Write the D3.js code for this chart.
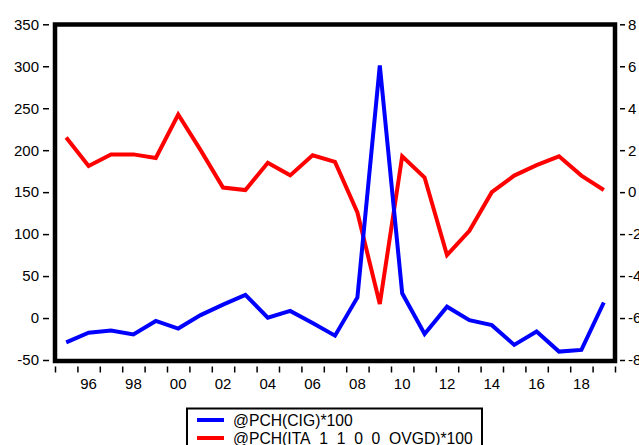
<!DOCTYPE html>
<html>
<head>
<meta charset="utf-8">
<script src="https://cdn.jsdelivr.net/npm/d3@7"></script>
<style>
  body { margin: 0; background: #fff; }
  svg { display: block; font-family: Arial, "Liberation Sans", sans-serif; }
</style>
</head>
<body>
<div id="viz"></div>
<script>
// Annual data, 1995-2019
const years = d3.range(1995, 2020);
const cigValues = [
  -29, -17.5, -15, -19.5, -3.5, -12.5, 3.5, 16, 27.5, 0.5, 8.5, -6, -21,
  24.5, 301, 29.5, -19, 13.5, -2.5, -8.5, -32, -16, -40, -38, 18.5
];
const itaValues = [
  2.6, 1.25, 1.8, 1.8, 1.63, 3.7, 2.0, 0.22, 0.1, 1.4, 0.8, 1.76, 1.44,
  -0.97, -5.33, 1.71, 0.7, -3.0, -1.84, 0.0, 0.79, 1.29, 1.71, 0.79, 0.1
];
const leftTicks = [-50, 0, 50, 100, 150, 200, 250, 300, 350];
const rightTicks = [-8, -6, -4, -2, 0, 2, 4, 6, 8];
const yearLabels = d3.range(1996, 2019, 2);
const legendLabels = ['@PCH(CIG)*100', '@PCH(ITA_1_1_0_0_OVGD)*100'];

const WIDTH = 639;
const HEIGHT = 445;
const FRAME = { left: 55, right: 615, top: 24.5, bottom: 361 };

const svg = d3.select('#viz')
  .append('svg')
  .attr('width', WIDTH)
  .attr('height', HEIGHT);

const x = d3.scaleLinear()
  .domain([1995, 2020])
  .range([FRAME.left, FRAME.right]);
const yLeft = d3.scaleLinear()
  .domain([-50, 350])
  .range([360, 24.3]);
const yRight = d3.scaleLinear()
  .domain([-8, 8])
  .range([360, 24.3]);

const fmt = d => String(d);

// left axis
const gLeft = svg.append('g')
  .attr('transform', 'translate(49,0)')
  .call(d3.axisLeft(yLeft).tickValues(leftTicks).tickSize(6).tickPadding(4).tickFormat(fmt));

// right axis (labels run off the right edge, as in the original)
const gRight = svg.append('g')
  .attr('transform', 'translate(620,0)')
  .call(d3.axisRight(yRight).tickValues(rightTicks).tickSize(5).tickPadding(3).tickFormat(fmt));

// bottom axis: ticks at year boundaries, labels at mid-year
const gBottom = svg.append('g')
  .attr('transform', 'translate(0,366.5)')
  .call(d3.axisBottom(x).tickValues(d3.range(1995, 2021)).tickSize(6).tickFormat(''));

[gLeft, gRight, gBottom].forEach(g => {
  g.select('.domain').remove();
  g.selectAll('.tick line').attr('stroke', '#000').attr('stroke-width', 1.5);
  g.selectAll('.tick text')
    .attr('fill', '#000')
    .style('font-size', '15px')
    .style('font-family', 'Arial, "Liberation Sans", sans-serif');
});

svg.append('g')
  .selectAll('text')
  .data(yearLabels)
  .join('text')
  .attr('x', d => x(d + 0.5))
  .attr('y', 389)
  .attr('text-anchor', 'middle')
  .style('font-size', '15px')
  .text(d => String(d % 100).padStart(2, '0'));

// lines
const lineCig = d3.line()
  .x((d, i) => x(years[i] + 0.5))
  .y(d => yLeft(d));
const lineIta = d3.line()
  .x((d, i) => x(years[i] + 0.5))
  .y(d => yRight(d));

svg.append('path')
  .datum(itaValues)
  .attr('fill', 'none')
  .attr('stroke', '#ff0000')
  .attr('stroke-width', 4)
  .attr('d', lineIta);

svg.append('path')
  .datum(cigValues)
  .attr('fill', 'none')
  .attr('stroke', '#0000ff')
  .attr('stroke-width', 4)
  .attr('d', lineCig);

// frame
svg.append('rect')
  .attr('x', FRAME.left)
  .attr('y', FRAME.top)
  .attr('width', FRAME.right - FRAME.left)
  .attr('height', FRAME.bottom - FRAME.top)
  .attr('fill', 'none')
  .attr('stroke', '#000')
  .attr('stroke-width', 4.5);

// legend
const legend = svg.append('g');
legend.append('rect')
  .attr('x', 187)
  .attr('y', 408.5)
  .attr('width', 295)
  .attr('height', 50)
  .attr('fill', '#fff')
  .attr('stroke', '#000')
  .attr('stroke-width', 2);

const colors = ['#0000ff', '#ff0000'];
legendLabels.forEach((label, i) => {
  const ly = 420 + i * 18;
  legend.append('line')
    .attr('x1', 197)
    .attr('x2', 224)
    .attr('y1', ly)
    .attr('y2', ly)
    .attr('stroke', colors[i])
    .attr('stroke-width', 4);
  legend.append('text')
    .attr('x', 233)
    .attr('y', ly + 5.5)
    .style('font-size', '15.7px')
    .text(label);
});
</script>
</body>
</html>
